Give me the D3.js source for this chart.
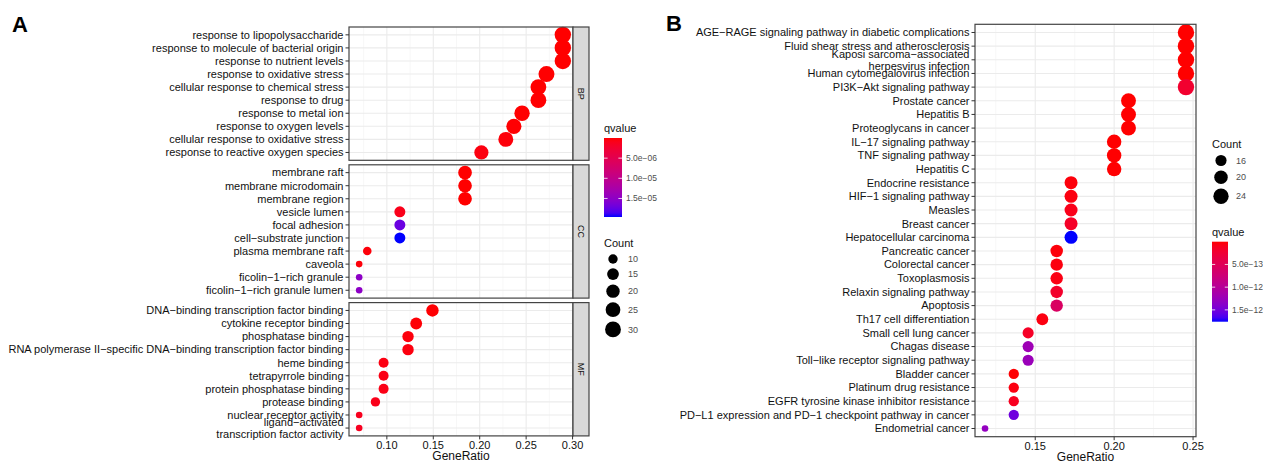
<!DOCTYPE html>
<html>
<head>
<meta charset="utf-8">
<script src="https://cdn.jsdelivr.net/npm/d3@7"></script>
<style>
body { margin: 0; background: #fff; }
text { font-family: "Liberation Sans", Arial, sans-serif; }
</style>
</head>
<body>
<svg id="chart" width="1263" height="463"></svg>
<script>
// ---- panel A data (GO enrichment, three ontologies)
var bpTerms = ["response to lipopolysaccharide", "response to molecule of bacterial origin", "response to nutrient levels",
  "response to oxidative stress", "cellular response to chemical stress", "response to drug", "response to metal ion",
  "response to oxygen levels", "cellular response to oxidative stress", "response to reactive oxygen species"];
var bpRatio = [0.2895, 0.2895, 0.2895, 0.2719, 0.2632, 0.2632, 0.2456, 0.2368, 0.2281, 0.2018];
var bpCount = [33, 33, 33, 31, 30, 30, 28, 27, 26, 23];
var bpQ = [1.2e-9, 1.5e-9, 3.0e-9, 2.1e-8, 4.4e-9, 8.0e-8, 3.1e-8, 5.2e-8, 3.0e-7, 4.7e-7];

var ccTerms = ["membrane raft", "membrane microdomain", "membrane region", "vesicle lumen", "focal adhesion",
  "cell\u2212substrate junction", "plasma membrane raft", "caveola", "ficolin\u22121\u2212rich granule",
  "ficolin\u22121\u2212rich granule lumen"];
var ccRatio = [0.1842, 0.1842, 0.1842, 0.1140, 0.1140, 0.1140, 0.0789, 0.0702, 0.0702, 0.0702];
var ccCount = [21, 21, 21, 13, 13, 13, 9, 8, 8, 8];
var ccQ = [5.3e-9, 5.3e-9, 5.3e-9, 1.0e-6, 1.72e-5, 1.96e-5, 3.0e-7, 3.0e-7, 1.5e-5, 1.5e-5];

var mfTerms = ["DNA\u2212binding transcription factor binding", "cytokine receptor binding", "phosphatase binding",
  "RNA polymerase II\u2212specific DNA\u2212binding transcription factor binding", "heme binding", "tetrapyrrole binding",
  "protein phosphatase binding", "protease binding", "nuclear receptor activity",
  "ligand\u2212activated\ntranscription factor activity"];
var mfRatio = [0.1491, 0.1316, 0.1228, 0.1228, 0.0965, 0.0965, 0.0965, 0.0877, 0.0702, 0.0702];
var mfCount = [17, 15, 14, 14, 11, 11, 11, 10, 8, 8];
var mfQ = [1.0e-7, 2.0e-7, 4.0e-7, 5.0e-7, 6.0e-7, 7.0e-7, 8.0e-7, 1.0e-6, 1.2e-6, 1.3e-6];

var aTicks = [0.10, 0.15, 0.20, 0.25, 0.30];
var aCountBreaks = [10, 15, 20, 25, 30];
var aQBreaks = [5e-6, 1e-5, 1.5e-5];

// ---- panel B data (KEGG)
var keggTerms = ["AGE\u2212RAGE signaling pathway in diabetic complications", "Fluid shear stress and atherosclerosis",
  "Kaposi sarcoma\u2212associated\nherpesvirus infection", "Human cytomegalovirus infection", "PI3K\u2212Akt signaling pathway",
  "Prostate cancer", "Hepatitis B", "Proteoglycans in cancer", "IL\u221217 signaling pathway", "TNF signaling pathway",
  "Hepatitis C", "Endocrine resistance", "HIF\u22121 signaling pathway", "Measles", "Breast cancer",
  "Hepatocellular carcinoma", "Pancreatic cancer", "Colorectal cancer", "Toxoplasmosis", "Relaxin signaling pathway",
  "Apoptosis", "Th17 cell differentiation", "Small cell lung cancer", "Chagas disease",
  "Toll\u2212like receptor signaling pathway", "Bladder cancer", "Platinum drug resistance",
  "EGFR tyrosine kinase inhibitor resistance", "PD\u2212L1 expression and PD\u22121 checkpoint pathway in cancer",
  "Endometrial cancer"];
var keggRatio = [0.2455, 0.2455, 0.2455, 0.2455, 0.2455, 0.2091, 0.2091, 0.2091, 0.2, 0.2,
  0.2, 0.1727, 0.1727, 0.1727, 0.1727, 0.1727, 0.1636, 0.1636, 0.1636, 0.1636,
  0.1636, 0.1545, 0.1455, 0.1455, 0.1455, 0.1364, 0.1364, 0.1364, 0.1364, 0.1182];
var keggCount = [27, 27, 27, 27, 27, 23, 23, 23, 22, 22, 22, 19, 19, 19, 19, 19, 18, 18, 18, 18,
  18, 17, 16, 16, 16, 15, 15, 15, 15, 13];
var keggQ = [3.2e-20, 4.5e-19, 8.0e-18, 2.6e-17, 2.1e-13, 1.2e-15, 3.0e-15, 4.1e-15, 2.0e-15, 4.0e-15,
  6.0e-15, 3.1e-14, 4.5e-14, 9.0e-14, 1.6e-13, 1.76e-12, 3.0e-14, 4.2e-14, 6.1e-14, 1.9e-13,
  5.8e-13, 5.0e-14, 1.5e-13, 1.22e-12, 1.25e-12, 1.0e-14, 5.2e-14, 1.2e-13, 1.52e-12, 1.3e-12];

var bTicks = [0.15, 0.20, 0.25];
var bCountBreaks = [16, 20, 24];
var bQBreaks = [5e-13, 1e-12, 1.5e-12];

var svg = d3.select("#chart");
var INK = "#111";

function expand(ext) {
  var d = (ext[1] - ext[0]) * 0.05;
  return [ext[0] - d, ext[1] + d];
}
// ggplot-like area scale: radius grows with sqrt of rescaled count
function sizeScale(ext) {
  var s = d3.scaleLinear().domain([0, 1]).range([3.3, 8.2]);
  return function(v) { return s(Math.sqrt(Math.max(0, (v - ext[0]) / (ext[1] - ext[0])))); };
}
function colorScale(ext) {
  return d3.scaleLinear().domain(ext).range(["red", "blue"]).interpolate(d3.interpolateLab);
}
function sci(v) {
  var p = v.toExponential(1).split("e");
  var e = +p[1];
  return p[0] + "e" + (e < 0 ? "\u2212" : "+") + String(Math.abs(e)).padStart(2, "0");
}
function minorOf(ticks, x) {
  var step = ticks[1] - ticks[0], out = [];
  var dom = x.domain();
  for (var v = ticks[0] - step / 2; v <= ticks[ticks.length - 1] + step / 2 + 1e-9; v += step) {
    if (v >= dom[0] && v <= dom[1]) out.push(v);
  }
  return out;
}

// one dotplot panel (or facet)
function drawPanel(g, terms, ratio, count, q, x, yTop, yBot, sz, col, ticks) {
  var L = x.range()[0], R = x.range()[1];
  var y = d3.scalePoint().domain(terms).range([yTop, yBot]).padding(0.6);

  g.selectAll(null).data(minorOf(ticks, x)).enter().append("line")
    .attr("x1", d => x(d)).attr("x2", d => x(d)).attr("y1", yTop).attr("y2", yBot)
    .attr("stroke", "#f2f2f2").attr("stroke-width", 0.6);
  g.selectAll(null).data(ticks).enter().append("line")
    .attr("x1", d => x(d)).attr("x2", d => x(d)).attr("y1", yTop).attr("y2", yBot)
    .attr("stroke", "#ebebeb").attr("stroke-width", 1.1);
  g.selectAll(null).data(terms).enter().append("line")
    .attr("x1", L).attr("x2", R).attr("y1", d => y(d)).attr("y2", d => y(d))
    .attr("stroke", "#ebebeb").attr("stroke-width", 1.1);

  var idx = d3.range(terms.length);
  g.selectAll(null).data(idx).enter().append("circle")
    .attr("cx", i => x(ratio[i])).attr("cy", i => y(terms[i]))
    .attr("r", i => sz(count[i]))
    .attr("fill", i => col(q[i]));

  g.append("rect").attr("x", L).attr("y", yTop).attr("width", R - L).attr("height", yBot - yTop)
    .attr("fill", "none").attr("stroke", "#444").attr("stroke-width", 1.2);

  // y axis ticks + labels
  g.selectAll(null).data(terms).enter().append("line")
    .attr("x1", L - 3.5).attr("x2", L).attr("y1", d => y(d)).attr("y2", d => y(d))
    .attr("stroke", "#333").attr("stroke-width", 1);
  var lab = g.selectAll(null).data(terms).enter().append("text")
    .attr("x", L - 5.5).attr("y", d => y(d))
    .attr("text-anchor", "end").attr("font-size", 11).attr("fill", INK);
  lab.each(function(d) {
    var lines = d.split("\n");
    var t = d3.select(this);
    lines.forEach(function(s, k) {
      t.append("tspan").attr("x", L - 5.5)
        .attr("dy", k === 0 ? (0.35 - (lines.length - 1) * 0.55) + "em" : "1.1em")
        .text(s);
    });
  });
  return y;
}

function xAxis(g, x, ticks, yBot) {
  g.selectAll(null).data(ticks).enter().append("line")
    .attr("x1", d => x(d)).attr("x2", d => x(d)).attr("y1", yBot).attr("y2", yBot + 3.5)
    .attr("stroke", "#333").attr("stroke-width", 1);
  g.selectAll(null).data(ticks).enter().append("text")
    .attr("x", d => x(d)).attr("y", yBot + 13.5)
    .attr("text-anchor", "middle").attr("font-size", 11).attr("fill", INK)
    .text(d => d.toFixed(2));
  var r = x.range();
  g.append("text").attr("x", (r[0] + r[1]) / 2).attr("y", yBot + 24.5)
    .attr("text-anchor", "middle").attr("font-size", 12).attr("fill", INK).text("GeneRatio");
}

function sizeLegend(g, lx, ty, breaks, sz) {
  g.append("text").attr("x", lx).attr("y", ty).attr("dy", "0.35em")
    .attr("font-size", 11).attr("fill", INK).text("Count");
  var cy = ty + 16;
  breaks.forEach(function(b, i) {
    var r = sz(b);
    if (i > 0) cy += (r + sz(breaks[i - 1])) + 4.5;
    g.append("circle").attr("cx", lx + 9).attr("cy", cy).attr("r", r).attr("fill", "#000");
    g.append("text").attr("x", lx + 24).attr("y", cy).attr("dy", "0.35em")
      .attr("font-size", 9).attr("fill", "#4d4d4d").text(b);
  });
}

function colorLegend(g, id, lx, ty, barTop, barBot, barW, col, breaks) {
  g.append("text").attr("x", lx).attr("y", ty).attr("dy", "0.35em")
    .attr("font-size", 11).attr("fill", INK).text("qvalue");
  var dom = col.domain();
  var grad = svg.append("defs").append("linearGradient").attr("id", id)
    .attr("x1", 0).attr("x2", 0).attr("y1", 0).attr("y2", 1);
  d3.range(0, 1.0001, 0.05).forEach(function(t) {
    grad.append("stop").attr("offset", t).attr("stop-color", col(dom[0] + t * (dom[1] - dom[0])));
  });
  g.append("rect").attr("x", lx).attr("y", barTop).attr("width", barW).attr("height", barBot - barTop)
    .attr("fill", "url(#" + id + ")");
  var yb = d3.scaleLinear().domain(dom).range([barTop, barBot]);
  breaks.forEach(function(b) {
    var yy = yb(b);
    g.append("line").attr("x1", lx).attr("x2", lx + barW / 5).attr("y1", yy).attr("y2", yy)
      .attr("stroke", "#fff").attr("stroke-width", 0.8);
    g.append("line").attr("x1", lx + barW - barW / 5).attr("x2", lx + barW).attr("y1", yy).attr("y2", yy)
      .attr("stroke", "#fff").attr("stroke-width", 0.8);
    g.append("text").attr("x", lx + barW + 4).attr("y", yy).attr("dy", "0.35em")
      .attr("font-size", 8.5).attr("fill", "#4d4d4d").text(sci(b));
  });
}

// ================= Panel A =================
var gA = svg.append("g");
var facetsA = [
  {name: "BP", terms: bpTerms, ratio: bpRatio, count: bpCount, q: bpQ},
  {name: "CC", terms: ccTerms, ratio: ccRatio, count: ccCount, q: ccQ},
  {name: "MF", terms: mfTerms, ratio: mfRatio, count: mfCount, q: mfQ}
];
var aAllRatio = bpRatio.concat(ccRatio, mfRatio);
var aAllCount = bpCount.concat(ccCount, mfCount);
var aAllQ = bpQ.concat(ccQ, mfQ);
var xA = d3.scaleLinear().domain(expand(d3.extent(aAllRatio))).range([349, 573]);
var sizeA = sizeScale(d3.extent(aAllCount));
var colA = colorScale(d3.extent(aAllQ));
var facetTop = 27, facetH = 133.3, facetGap = 4.5, stripW = 16;

facetsA.forEach(function(f, i) {
  var top = facetTop + i * (facetH + facetGap);
  drawPanel(gA, f.terms, f.ratio, f.count, f.q, xA, top, top + facetH, sizeA, colA, aTicks);
  gA.append("rect").attr("x", 573).attr("y", top).attr("width", stripW).attr("height", facetH)
    .attr("fill", "#d9d9d9").attr("stroke", "#444").attr("stroke-width", 1.2);
  gA.append("text").attr("transform", "translate(" + (573 + stripW / 2) + "," + (top + facetH / 2) + ") rotate(90)")
    .attr("text-anchor", "middle").attr("dy", "0.35em").attr("font-size", 9).attr("fill", INK).text(f.name);
});
xAxis(gA, xA, aTicks, facetTop + 3 * facetH + 2 * facetGap);
colorLegend(gA, "gradA", 604, 128, 138, 217, 18, colA, aQBreaks);
sizeLegend(gA, 604, 243, aCountBreaks, sizeA);
gA.append("text").attr("x", 12).attr("y", 32).attr("font-size", 22).attr("font-weight", "bold")
  .attr("fill", "#000").text("A");

// ================= Panel B =================
var gB = svg.append("g");
var xB = d3.scaleLinear().domain(expand(d3.extent(keggRatio))).range([975, 1196]);
var sizeB = sizeScale(d3.extent(keggCount));
var colB = colorScale(d3.extent(keggQ));
drawPanel(gB, keggTerms, keggRatio, keggCount, keggQ, xB, 24.3, 436.7, sizeB, colB, bTicks);
xAxis(gB, xB, bTicks, 436.7);
sizeLegend(gB, 1212, 144.5, bCountBreaks, sizeB);
colorLegend(gB, "gradB", 1212, 232.3, 241.7, 321.7, 16, colB, bQBreaks);
gB.append("text").attr("x", 666).attr("y", 31).attr("font-size", 22).attr("font-weight", "bold")
  .attr("fill", "#000").text("B");
</script>
</body>
</html>
